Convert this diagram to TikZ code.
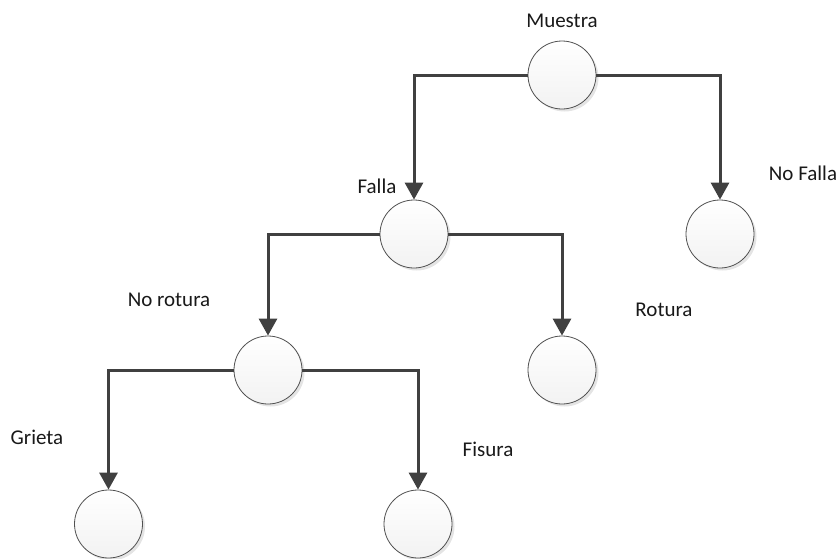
\documentclass[tikz,border=0pt]{standalone}
\usepackage{fontspec}
\setmainfont{Carlito}
\usetikzlibrary{arrows.meta,shadows}
\definecolor{linec}{HTML}{404040}
\definecolor{circc}{HTML}{505050}
\begin{document}
\begin{tikzpicture}[x=1pt,y=-1pt,
  state/.style={circle, minimum size=68pt, inner sep=0pt, draw=circc, line width=0.8pt,
    top color=white, bottom color=gray!10,
    drop shadow={shadow xshift=2.5pt, shadow yshift=-2.5pt, fill=gray!35, opacity=0.6}},
  conn/.style={draw=linec, line width=3pt, -{Triangle[width=18pt,length=17pt]}},
  lbl/.style={font=\fontsize{21}{25}\selectfont, anchor=base, inner sep=0pt, text=black!90}]
\useasboundingbox (0,0) rectangle (839,558);
\node[state] (m) at (562,75) {};
\node[state] (f) at (414,234) {};
\node[state] (nf) at (720,234) {};
\node[state] (nr) at (268,370) {};
\node[state] (r) at (562,370) {};
\node[state] (g) at (108.5,524) {};
\node[state] (fi) at (418,524) {};
\draw[conn] (m.west) -| (f.north);
\draw[conn] (m.east) -| (nf.north);
\draw[conn] (f.west) -| (nr.north);
\draw[conn] (f.east) -| (r.north);
\draw[conn] (nr.west) -| (g.north);
\draw[conn] (nr.east) -| (fi.north);
\node[lbl] (lm) at (562,27.3) {Muestra};
\node[lbl] (lf) at (377,193) {Falla};
\node[lbl] (lnf) at (803,180) {No Falla};
\node[lbl] (lnr) at (169,306) {No rotura};
\node[lbl] (lr) at (664,316) {Rotura};
\node[lbl] (lg) at (37,444) {Grieta};
\node[lbl] (lfi) at (488,456) {Fisura};
\end{tikzpicture}
\end{document}
